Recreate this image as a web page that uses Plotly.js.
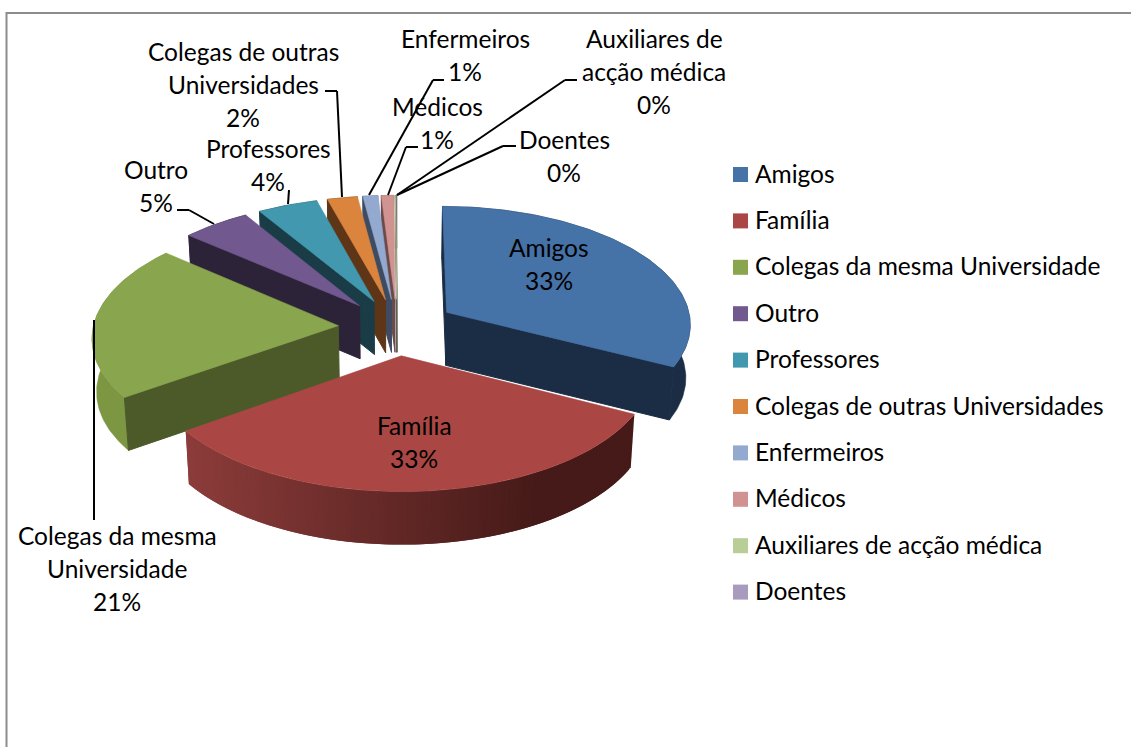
<!DOCTYPE html>
<html><head><meta charset="utf-8">
<script src="https://cdn.plot.ly/plotly-3.0.1.min.js"></script>
<style>html,body{margin:0;padding:0;background:#fff}#c{width:1131px;height:747px}</style></head>
<body><div id="c"></div>
<script>
const categories=["Amigos","Família","Colegas da mesma Universidade","Outro","Professores","Colegas de outras Universidades","Enfermeiros","Médicos","Auxiliares de acção médica","Doentes"];
const values=[32.5,32.7,21.1,5,4.4,2.2,1.1,0.9,0.05,0.05];
const topColors=["#4572A7","#AA4643","#89A54E","#71588F","#4198AF","#DB843D","#93A9CF","#D19392","#B9CD96","#A99BBD"];
const faceColors=["#1B2D45","#451A18","#4C5A2A","#2D2339","#1A3C46","#5E3517","#3E4C63","#6B4A4A","#5A6648","#4A4358"];
const wallColors=["#1B2D45",null,"#7C9641","#2D2339","#1A3C46","#5E3517","#3E4C63","#6B4A4A","#5A6648","#4A4358"];
const drawOrder=[9,8,7,6,5,4,3,2,0,1];
const labelLines=[["Amigos","33%"],["Família","33%"],["Colegas da mesma","Universidade","21%"],["Outro","5%"],["Professores","4%"],["Colegas de outras","Universidades","2%"],["Enfermeiros","1%"],["Médicos","1%"],["Auxiliares de","acção médica","0%"],["Doentes","0%"]];
const labelX=[549,414,117,156,268,243,465,437,654,564];
const labelY=[247,425,535,169,148,51,38,106,38,139];
const leaders=[null,null,[[94,320],[94,520]],[[177,210],[189,210],[214,224]],[[289,190],[288,204]],[[325,91],[337,91],[342,197]],[[369,195],[433,80],[444,80]],[[388,195],[406,147],[418,147]],[[397,195],[565,80],[577,80]],[[397,195],[503,146],[516,146]]];
const FONT="Lato, Carlito, sans-serif", FS=24.5, LH=33;
// projection of the tilted disc
const CX=397,CY=327,A=245,B=118,K=0.09,EXP=0.24,DEPTH=53,SHR=0.985;
function proj(u,v){const s=1/(1-K*v);return [CX+A*u*s,CY+B*v*s];}
function low(p){return [CX+(p[0]-CX)*SHR,p[1]+DEPTH];}
const rad=d=>d*Math.PI/180;
const traces=[];
function poly(pts,color,w){
  const xs=pts.map(p=>p[0]).concat(pts[0][0]),ys=pts.map(p=>p[1]).concat(pts[0][1]);
  traces.push({type:"scatter",mode:"lines",x:xs,y:ys,fill:"toself",fillcolor:color,line:{color:color,width:w===undefined?0.6:w},hoverinfo:"skip",showlegend:false});
}
const total=values.reduce((a,b)=>a+b,0);
let acc=0;const start=[],end=[];
values.forEach((v,i)=>{start[i]=acc/total*360;acc+=v;end[i]=acc/total*360;});
function lerpColor(a,b,t){const h=c=>[1,3,5].map(i=>parseInt(c.substr(i,2),16));const x=h(a),y=h(b);return "rgb("+x.map((q,i)=>Math.round(q+(y[i]-q)*t)).join(",")+")";}
function wallShade(x){ // Família wall: darkens left to right
  const t=Math.min(1,Math.max(0,(x-188)/(540-188)));return lerpColor("#8C3C3A","#451A18",t);
}
drawOrder.forEach(i=>{
  const m=rad((start[i]+end[i])/2);
  const eu=EXP*Math.sin(m),ev=-EXP*Math.cos(m);
  const rim=[];const n=Math.max(2,Math.ceil(end[i]-start[i]));
  for(let k=0;k<=n;k++){const a=rad(start[i]+(end[i]-start[i])*k/n);rim.push(proj(eu+Math.sin(a),ev-Math.cos(a)));}
  const apex=proj(eu,ev);
  if(wallColors[i]){
    poly(rim.concat(rim.map(low).reverse()),wallColors[i]);
  }else{
    for(let k=0;k<n;k++){const e=Math.min(n,k+2);poly([rim[k],rim[e],low(rim[e]),low(rim[k])],wallShade(rim[k][0]),0);}
  }
  // only the cut faces turned toward the viewer are drawn
  if(Math.sin(rad(start[i]))<=0) poly([apex,rim[0],low(rim[0]),low(apex)],faceColors[i],1);
  if(Math.sin(rad(end[i]))>0) poly([apex,rim[n],low(rim[n]),low(apex)],faceColors[i],1);
  poly([apex].concat(rim),topColors[i]);
});
// legend squares
const legendY=categories.map((c,i)=>174.5+i*46.4);
traces.push({type:"scatter",mode:"markers",x:categories.map(()=>740.5),y:legendY,marker:{symbol:"square",size:15,color:topColors,line:{width:0}},hoverinfo:"skip",showlegend:false});
const annotations=[];
function txt(t,x,y,anchor){annotations.push({text:t,x:x,y:y,xref:"x",yref:"y",xanchor:anchor,yanchor:"middle",showarrow:false,font:{family:FONT,size:FS,color:"#000"},borderpad:0});}
categories.forEach((c,i)=>txt(c,753.5,legendY[i]-1.5,"left"));
labelLines.forEach((ls,i)=>ls.forEach((l,j)=>txt(l,labelX[i],labelY[i]+j*LH,"center")));
const shapes=[{type:"rect",xref:"x",yref:"y",x0:6.5,y0:13,x1:1160,y1:780,line:{color:"#8C8C8C",width:2},fillcolor:"rgba(0,0,0,0)",layer:"below"}];
leaders.forEach(L=>{if(!L)return;for(let k=0;k<L.length-1;k++)shapes.push({type:"line",xref:"x",yref:"y",x0:L[k][0],y0:L[k][1],x1:L[k+1][0],y1:L[k+1][1],line:{color:"#000",width:2},layer:"above"});});
Plotly.newPlot("c",traces,{width:1131,height:747,margin:{l:0,r:0,t:0,b:0},paper_bgcolor:"#fff",plot_bgcolor:"#fff",showlegend:false,
 xaxis:{range:[0,1131],visible:false,fixedrange:true},yaxis:{range:[747,0],visible:false,fixedrange:true},annotations:annotations,shapes:shapes},{displayModeBar:false,staticPlot:true});
</script></body></html>
